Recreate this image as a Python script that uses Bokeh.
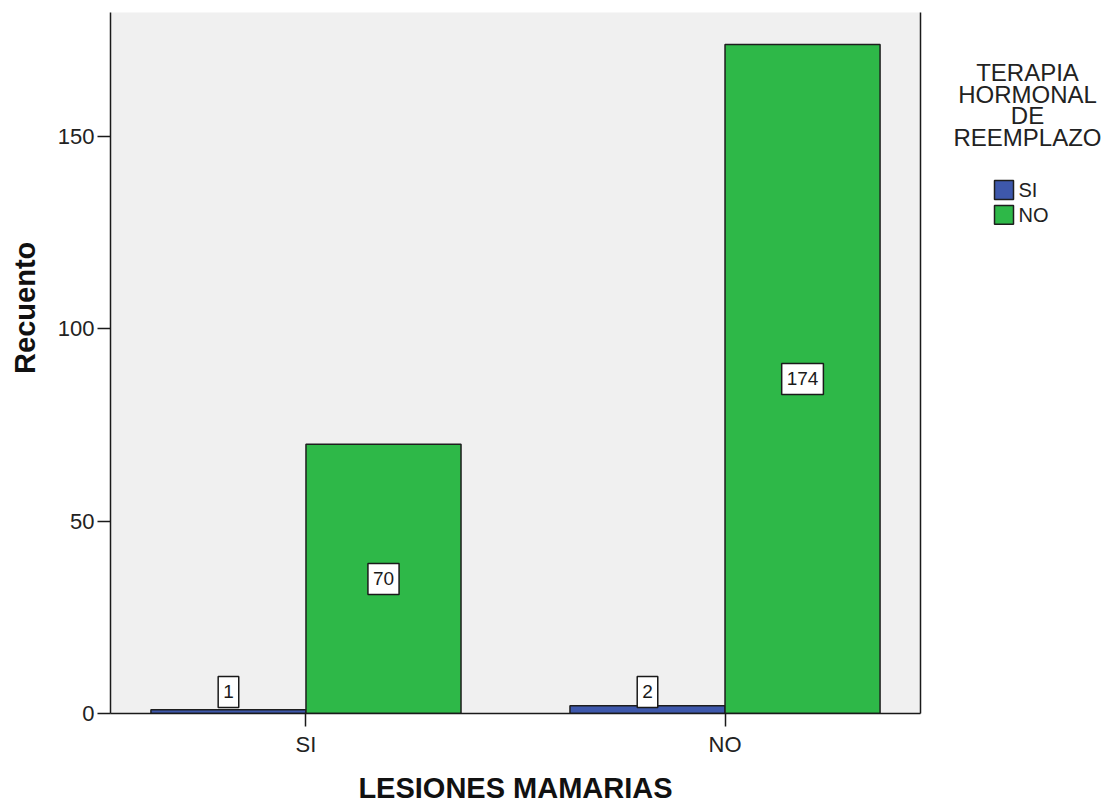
import math
from bokeh.plotting import figure
from bokeh.layouts import row
from bokeh.models import (ColumnDataSource, FactorRange, Range1d, FixedTicker, LinearAxis)
from bokeh.transform import dodge
from bokeh.core.properties import value
from bokeh.embed import file_html
from bokeh.resources import INLINE

# Categories on the x axis (LESIONES MAMARIAS)
lesiones = ["SI", "NO"]
# Series: TERAPIA HORMONAL DE REEMPLAZO
terapia = ["SI", "NO"]
recuento_terapia_si = [1, 2]
recuento_terapia_no = [70, 174]
y_ticks = [0, 50, 100, 150]
legend_title = ["TERAPIA", "HORMONAL", "DE", "REEMPLAZO"]

colors = ["#3E58AC", "#2EB848"]
EDGE = "#1E1E1E"
INK = "#222222"
FONT = "Liberation Sans"
BAR_W = 0.37
MIN_LABEL_Y = 5.6

# page layout (pixels): three panels side by side sharing the same frame height
TOP, BOTTOM = 12, 89
H = 806
FRAME_TOP, FRAME_BOTTOM = TOP, H - BOTTOM


def side_panel(x0, x1):
    """A bare panel whose data coordinates are page pixels."""
    f = figure(width=x1 - x0, height=H, x_range=Range1d(x0, x1),
               y_range=Range1d(FRAME_BOTTOM, FRAME_TOP),
               output_backend="svg", toolbar_location=None,
               x_axis_type=None, y_axis_type=None,
               min_border_left=0, min_border_right=0,
               min_border_top=TOP, min_border_bottom=BOTTOM)
    f.outline_line_color = None
    f.grid.visible = False
    f.background_fill_color = "white"
    f.border_fill_color = "white"
    return f


src = ColumnDataSource(dict(
    lesiones=lesiones,
    si=recuento_terapia_si,
    no=recuento_terapia_no,
    si_text=[str(v) for v in recuento_terapia_si],
    no_text=[str(v) for v in recuento_terapia_no],
    si_mid=[max(v / 2, MIN_LABEL_Y) for v in recuento_terapia_si],
    no_mid=[max(v / 2, MIN_LABEL_Y) for v in recuento_terapia_no],
))

# ---- y axis title panel -------------------------------------------------
left = side_panel(0, 50)
left.text(x=[24], y=[309], text=["Recuento"], angle=math.pi / 2,
          text_align="center", text_baseline="middle",
          text_font=value(FONT), text_font_style="bold", text_font_size="29px",
          text_color="#111111")

# ---- main chart -------------------------------------------------------
p = figure(width=880, height=H,
           x_range=FactorRange(*lesiones, range_padding=-0.0335),
           y_range=Range1d(0, 182.3),
           output_backend="svg", toolbar_location=None,
           min_border_left=60, min_border_right=10,
           min_border_top=TOP, min_border_bottom=BOTTOM)

p.background_fill_color = "#F0F0F0"
p.border_fill_color = "white"
p.outline_line_color = None
p.xgrid.visible = False
p.ygrid.visible = False

offsets = [-BAR_W / 2, BAR_W / 2]
for col, off, color in zip(["si", "no"], offsets, colors):
    p.vbar(x=dodge("lesiones", off, range=p.x_range), top=col, width=BAR_W,
           source=src, fill_color=color, line_color=EDGE, line_width=1.5)
    p.text(x=dodge("lesiones", off, range=p.x_range), y=col + "_mid",
           text=col + "_text", source=src,
           text_align="center", text_baseline="middle",
           text_font=value(FONT), text_font_size="19px", text_color="#1A1A1A",
           background_fill_color="white", border_line_color="#1A1A1A",
           border_line_width=1.5,
           padding=dict(left=5, right=5, top=9, bottom=9))

for ax in (p.xaxis, p.yaxis):
    ax.axis_line_color = "#1A1A1A"
    ax.axis_line_width = 1.5
    ax.major_tick_line_color = "#1A1A1A"
    ax.major_tick_line_width = 1.5
    ax.major_tick_in = 0
    ax.major_tick_out = 13
    ax.minor_tick_line_color = None
    ax.major_label_text_font = FONT
    ax.major_label_text_font_size = "22px"
    ax.major_label_text_color = INK

p.xaxis.axis_label = "LESIONES MAMARIAS"
p.xaxis.axis_label_text_font = FONT
p.xaxis.axis_label_text_font_style = "bold"
p.xaxis.axis_label_text_font_size = "29px"
p.xaxis.axis_label_text_color = "#111111"
p.xaxis.major_label_standoff = 5
p.xaxis.axis_label_standoff = 12

p.yaxis.ticker = FixedTicker(ticks=y_ticks)
p.yaxis.major_label_standoff = 3

# right-hand edge of the plot area
edge = LinearAxis(ticker=FixedTicker(ticks=[]), axis_line_color="#1A1A1A",
                  axis_line_width=1.5, major_tick_line_color=None,
                  minor_tick_line_color=None, major_label_text_font_size="0px")
p.add_layout(edge, "right")

# ---- legend panel -----------------------------------------------------
lg = side_panel(930, 1108)
title_src = ColumnDataSource(dict(text=legend_title, x=[1027] * 4, y=[72, 94, 116, 138]))
lg.text(x="x", y="y", text="text", source=title_src, text_align="center",
        text_baseline="middle", text_font=value(FONT), text_font_size="24px",
        text_color=INK)

key_src = ColumnDataSource(dict(label=terapia, color=colors,
                                x=[1003.5] * 2, y=[190.5, 215.5], tx=[1018] * 2))
lg.rect(x="x", y="y", width=19, height=19, source=key_src,
        fill_color="color", line_color=EDGE, line_width=1.5)
lg.text(x="tx", y="y", text="label", source=key_src, text_align="left",
        text_baseline="middle", text_font=value(FONT), text_font_size="20px",
        text_color=INK)

layout = row(left, p, lg, spacing=0)
open("out.html", "w").write(file_html(layout, INLINE))
